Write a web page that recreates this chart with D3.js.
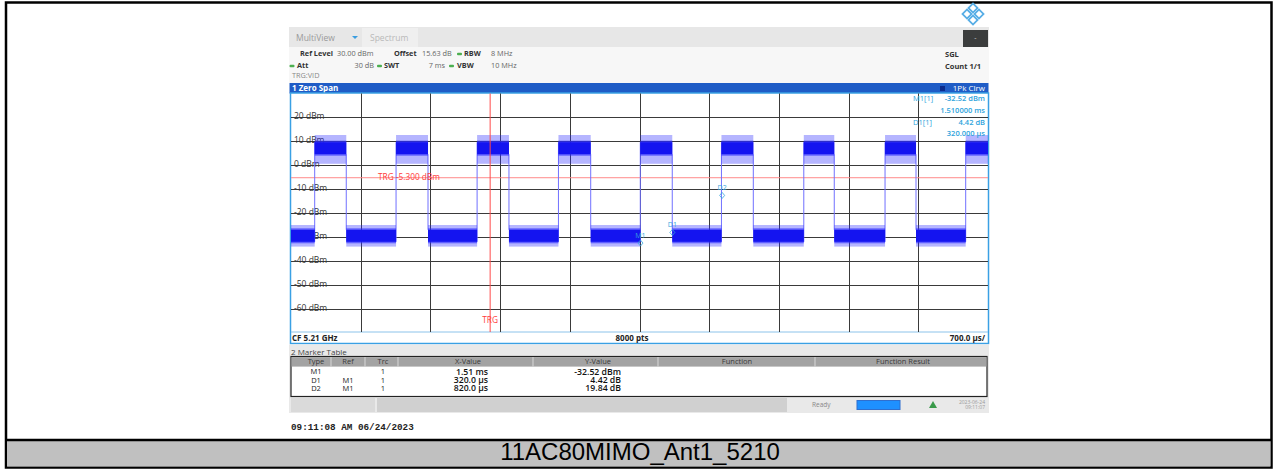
<!DOCTYPE html>
<html><head><meta charset="utf-8">
<script src="https://cdn.jsdelivr.net/npm/d3@7"></script>
<style>
body{margin:0;background:#fff;}
svg{display:block;font-family:"Open Sans","Noto Sans",sans-serif;}
</style>
</head><body>
<svg id="c" width="1274" height="470"></svg>
<script>
// ---------------- data ----------------
const yTickValues = [20, 10, 0, -10, -20, -30, -40, -50, -60];
const yTickLabels = ["20 dBm","10 dBm","0 dBm","-10 dBm","-20 dBm","-30 dBm","-40 dBm","-50 dBm","-60 dBm"];
const timeDomain = [-2, 5];          // ms, 700 µs/div
const levelDomain = [-70, 30];       // dBm
const riseTimes = [-1.762, -0.945, -0.131, 0.686, 1.508, 2.323, 3.150, 3.966, 4.776]; // ms
const fallTimes = [-1.445, -0.624, 0.189, 1.010, 1.829, 2.643, 3.456, 4.277];         // ms
const highEnvelope = [12.5, 9.5, 4.5, 0.5];    // spike top, core top, core bottom, spike bottom (dBm)
const lowEnvelope = [-25.0, -27.0, -32.0, -34.0];
const triggerLevel = -5.3;
const triggerTime = 0;
const markerNames = ["M1", "D1", "D2"];
const markerTimes = [1.51, 1.83, 2.33];
const markerLevels = [-32.52, -28.10, -12.68];
const readoutLabels = ["M1[1]", "", "D1[1]", ""];
const readoutValues = ["-32.52 dBm", "1.510000 ms", "4.42 dB", "320.000 µs"];
const tableHeaders = ["Type", "Ref", "Trc", "X-Value", "Y-Value", "Function", "Function Result"];
const tableTypes = ["M1", "D1", "D2"];
const tableRefs = ["", "M1", "M1"];
const tableTrc = ["1", "1", "1"];
const tableX = ["1.51 ms", "320.0 µs", "820.0 µs"];
const tableY = ["-32.52 dBm", "4.42 dB", "19.84 dB"];
const captionText = "11AC80MIMO_Ant1_5210";

// ---------------- drawing ----------------
const svg = d3.select("#c");
const defs = svg.append("defs");

function t(x, y, s, o = {}) {
  return svg.append("text").attr("x", x).attr("y", y).text(s)
    .attr("font-size", o.size || 8)
    .attr("font-weight", o.weight || "normal")
    .attr("fill", o.fill || "#333")
    .attr("text-anchor", o.anchor || "start")
    .attr("dominant-baseline", "middle")
    .attr("font-family", o.family || null);
}

// outer frame
svg.append("rect").attr("x", 6).attr("y", 2.5).attr("width", 1265.5).attr("height", 465)
  .attr("fill", "#fff").attr("stroke", "#000").attr("stroke-width", 2.5);
svg.append("rect").attr("x", 7).attr("y", 441).attr("width", 1263.5).attr("height", 25.5).attr("fill", "#c0c0c0");
svg.append("line").attr("x1", 6).attr("x2", 1271.5).attr("y1", 440).attr("y2", 440)
  .attr("stroke", "#000").attr("stroke-width", 2.5);
t(640, 454, captionText, {size: 24, anchor: "middle", fill: "#000", family: "'Liberation Sans',Arial,sans-serif"});

// logo
const logo = svg.append("g").attr("transform", "translate(973,14)");
[[0,-6],[-6,0],[6,0],[0,6]].forEach(p => {
  logo.append("rect").attr("x", -3.2).attr("y", -3.2).attr("width", 6.4).attr("height", 6.4)
    .attr("transform", `translate(${p[0]},${p[1]}) rotate(45)`)
    .attr("fill", "#fff").attr("stroke", "#58aee6").attr("stroke-width", 1.8);
});

// toolbar
svg.append("rect").attr("x", 289).attr("y", 27).attr("width", 700).attr("height", 20).attr("fill", "#e7e7e7");
svg.append("rect").attr("x", 362).attr("y", 28).attr("width", 56).attr("height", 19).attr("fill", "#efefef");
t(296, 39, "MultiView", {size: 8.5, fill: "#9a9a9a"});
svg.append("path").attr("d", "M352,36 L358,36 L355,39 Z").attr("fill", "#3a9de0");
t(370, 39, "Spectrum", {size: 8.5, fill: "#b9b9b9"});
svg.append("rect").attr("x", 963).attr("y", 30).attr("width", 25).attr("height", 17).attr("fill", "#3b3d3d");
t(975.5, 38, "-", {size: 7, fill: "#ccc", anchor: "middle"});

// header
svg.append("rect").attr("x", 289).attr("y", 47).attr("width", 700).attr("height", 36).attr("fill", "#f7f7f7");
function dot(x, y) { svg.append("rect").attr("x", x).attr("y", y - 1.2).attr("width", 5).attr("height", 2.4).attr("rx", 1).attr("fill", "#4caf50"); }
const hs = 7.3;
t(300, 54, "Ref Level", {weight: "bold", size: hs});
t(337, 54, "30.00 dBm", {fill: "#666", size: hs});
t(394, 54, "Offset", {weight: "bold", size: hs});
t(422, 54, "15.63 dB", {fill: "#666", size: hs});
dot(457, 54);
t(464, 54, "RBW", {weight: "bold", size: hs});
t(491, 54, "8 MHz", {fill: "#666", size: hs});
dot(289.5, 66);
t(297, 66, "Att", {weight: "bold", size: hs});
t(374, 66, "30 dB", {fill: "#666", anchor: "end", size: hs});
dot(377, 66);
t(384, 66, "SWT", {weight: "bold", size: hs});
t(445, 66, "7 ms", {fill: "#666", anchor: "end", size: hs});
dot(449, 66);
t(457, 66, "VBW", {weight: "bold", size: hs});
t(491, 66, "10 MHz", {fill: "#666", size: hs});
t(292, 76.5, "TRG:VID", {fill: "#888", size: 7.3});
t(945, 55, "SGL", {weight: "bold", size: 7.5});
t(945, 66.5, "Count 1/1", {weight: "bold", size: 7.5});

// title bar
svg.append("rect").attr("x", 289.5).attr("y", 83).attr("width", 699).attr("height", 10.5).attr("fill", "#1f5cc6");
t(292, 88.5, "1 Zero Span", {weight: "bold", fill: "#fff", size: 8});
svg.append("rect").attr("x", 940).attr("y", 86).attr("width", 5).attr("height", 5).attr("fill", "#0b2b8c");
t(985, 88.5, "1Pk Clrw", {fill: "#fff", size: 8, anchor: "end"});

// plot frame
const L = 291, R = 988, T = 93.5, B = 332;
svg.append("rect").attr("x", 290.5).attr("y", 93).attr("width", 698).attr("height", 250.5)
  .attr("fill", "#fff").attr("stroke", "#3aa0e4").attr("stroke-width", 1.5);
svg.append("line").attr("x1", 291).attr("x2", 988).attr("y1", B).attr("y2", B).attr("stroke", "#8cc3ea").attr("stroke-width", 1);

const x = d3.scaleLinear().domain(timeDomain).range([L, R]);
const y = d3.scaleLinear().domain(levelDomain).range([333, 93]);

defs.append("clipPath").attr("id", "clip").append("rect")
  .attr("x", L).attr("y", T).attr("width", R - L).attr("height", B - T);

// grid
const grid = svg.append("g");
const xDivs = d3.range(1, 10).map(i => timeDomain[0] + i * (timeDomain[1] - timeDomain[0]) / 10);
grid.selectAll("line.v").data(xDivs).join("line")
  .attr("x1", d => Math.round(x(d)) + 0.5).attr("x2", d => Math.round(x(d)) + 0.5)
  .attr("y1", T).attr("y2", B).attr("stroke", "#3a3a3a").attr("stroke-width", 1);
grid.selectAll("line.h").data(yTickValues).join("line")
  .attr("x1", L).attr("x2", R).attr("y1", d => Math.round(y(d)) + 0.5).attr("y2", d => Math.round(y(d)) + 0.5)
  .attr("stroke", "#3a3a3a").attr("stroke-width", 1);

// y labels
svg.selectAll("text.yl").data(yTickValues).join("text")
  .attr("x", 294).attr("y", d => y(d)).text((d, i) => yTickLabels[i])
  .attr("font-size", 8.5).attr("fill", "#333").attr("dominant-baseline", "middle");

// trigger level line
svg.append("line").attr("x1", L).attr("x2", R).attr("y1", y(triggerLevel)).attr("y2", y(triggerLevel))
  .attr("stroke", "#ff8a8a").attr("stroke-width", 1);

// trace
const segs = [];
let start = timeDomain[0];
riseTimes.forEach((r, i) => {
  segs.push({env: lowEnvelope, t0: start, t1: r});
  const f = i < fallTimes.length ? fallTimes[i] : timeDomain[1];
  segs.push({env: highEnvelope, t0: r, t1: f});
  start = f;
});
const tr = svg.append("g").attr("clip-path", "url(#clip)");
tr.selectAll("line.rise").data(riseTimes).join("line")
  .attr("x1", d => x(d)).attr("x2", d => x(d))
  .attr("y1", y(lowEnvelope[2])).attr("y2", y(highEnvelope[1]))
  .attr("stroke", "#7070ff").attr("stroke-width", 1);
tr.selectAll("line.fall").data(fallTimes).join("line")
  .attr("x1", d => x(d)).attr("x2", d => x(d))
  .attr("y1", y(highEnvelope[2])).attr("y2", y(lowEnvelope[1]))
  .attr("stroke", "#7070ff").attr("stroke-width", 1);
segs.forEach(s => {
  const x0 = x(s.t0), w = x(s.t1) - x(s.t0);
  tr.append("rect").attr("x", x0).attr("width", w)
    .attr("y", y(s.env[0])).attr("height", y(s.env[3]) - y(s.env[0]))
    .attr("fill", "#2a2aff").attr("opacity", 0.35);
  tr.append("rect").attr("x", x0).attr("width", w)
    .attr("y", y(s.env[1]) - 1.5).attr("height", y(s.env[2]) - y(s.env[1]) + 3)
    .attr("fill", "#2a2aff").attr("opacity", 0.6);
  tr.append("rect").attr("x", x0).attr("width", w)
    .attr("y", y(s.env[1])).attr("height", y(s.env[2]) - y(s.env[1])).attr("fill", "#1414f0");
});

// trigger time line (over the trace)
svg.append("line").attr("x1", x(triggerTime)).attr("x2", x(triggerTime)).attr("y1", T).attr("y2", B)
  .attr("stroke", "#ff4a4a").attr("stroke-width", 1);

// trigger labels
t(378, y(triggerLevel) + 0.5, "TRG  -5.300 dBm", {fill: "#ff3b3b", size: 8.3});
t(x(triggerTime), 320.5, "TRG", {fill: "#ff3b3b", size: 8.3, anchor: "middle"});

// markers
const mk = svg.append("g");
markerNames.forEach((n, i) => {
  const mx = x(markerTimes[i]), my = y(markerLevels[i]);
  mk.append("path").attr("d", `M${mx},${my - 3} L${mx + 2.5},${my} L${mx},${my + 3} L${mx - 2.5},${my} Z`)
    .attr("fill", "none").attr("stroke", "#35a6dc").attr("stroke-width", 0.8);
  mk.append("text").attr("x", mx).attr("y", my - 7).text(n).attr("font-size", 7)
    .attr("fill", "#35a6dc").attr("text-anchor", "middle").attr("dominant-baseline", "middle");
});

// readout
const roY = [98.5, 111, 122.7, 134.3];
readoutValues.forEach((v, i) => {
  if (readoutLabels[i]) t(913, roY[i], readoutLabels[i], {fill: "#2ea3dc", size: 7.5});
  t(985, roY[i], v, {fill: "#2ea3dc", size: 7.5, anchor: "end", weight: 600});
});

// bottom bar of plot
t(292, 338.5, "CF 5.21 GHz", {weight: "bold", size: 8, fill: "#222"});
t(632, 338.5, "8000 pts", {weight: "bold", size: 8, fill: "#222", anchor: "middle"});
t(985, 338.5, "700.0 µs/", {weight: "bold", size: 8, fill: "#222", anchor: "end"});

// marker table area
svg.append("rect").attr("x", 289).attr("y", 344.5).attr("width", 700).attr("height", 68.5).attr("fill", "#e9e9e9");
t(291, 352.5, "2 Marker Table", {size: 8, fill: "#444"});
svg.append("rect").attr("x", 291).attr("y", 356.5).attr("width", 696).attr("height", 40).attr("fill", "#fff")
  .attr("stroke", "#222").attr("stroke-width", 1.2);
svg.append("rect").attr("x", 291.6).attr("y", 357.1).attr("width", 694.8).attr("height", 9.5).attr("fill", "#a3a3a3");
const colCenters = [316, 348, 383, 468, 598, 737, 903];
const colSeps = [331, 365, 398, 533, 658, 815];
svg.selectAll("line.cs").data(colSeps).join("line")
  .attr("x1", d => d).attr("x2", d => d).attr("y1", 357).attr("y2", 366.5)
  .attr("stroke", "#d8d8d8").attr("stroke-width", 1);
tableHeaders.forEach((h, i) => t(colCenters[i], 362, h, {size: 7.5, fill: "#3a3a3a", anchor: "middle"}));
const rowY = [372.3, 380.7, 389];
tableTypes.forEach((v, i) => {
  t(colCenters[0], rowY[i], v, {size: 7.5, anchor: "middle", fill: "#222"});
  t(colCenters[1], rowY[i], tableRefs[i], {size: 7.5, anchor: "middle", fill: "#222"});
  t(colCenters[2], rowY[i], tableTrc[i], {size: 7.5, anchor: "middle", fill: "#222"});
  t(488, rowY[i], tableX[i], {size: 8.7, weight: 600, anchor: "end", fill: "#111"});
  t(621, rowY[i], tableY[i], {size: 8.7, weight: 600, anchor: "end", fill: "#111"});
});

// status bar
svg.append("rect").attr("x", 291).attr("y", 398).attr("width", 84).attr("height", 14).attr("fill", "#dadada");
svg.append("rect").attr("x", 377).attr("y", 398).attr("width", 410).attr("height", 14).attr("fill", "#d0d0d0");
t(812, 405.5, "Ready", {size: 6.5, fill: "#888"});
svg.append("rect").attr("x", 857).attr("y", 400.5).attr("width", 43).attr("height", 9).attr("fill", "#1e90ff").attr("stroke", "#2f6fcf");
svg.append("path").attr("d", "M929,408 L933,401 L937,408 Z").attr("fill", "#3a9a4a");
t(985, 402.5, "2023-06-24", {size: 5, fill: "#9a9a9a", anchor: "end"});
t(985, 408, "09:11:07", {size: 5, fill: "#9a9a9a", anchor: "end"});

// timestamp
t(291, 428, "09:11:08 AM  06/24/2023", {size: 9.3, weight: "bold", fill: "#222", family: "'Liberation Mono','DejaVu Sans Mono',monospace"});
</script>
</body></html>
